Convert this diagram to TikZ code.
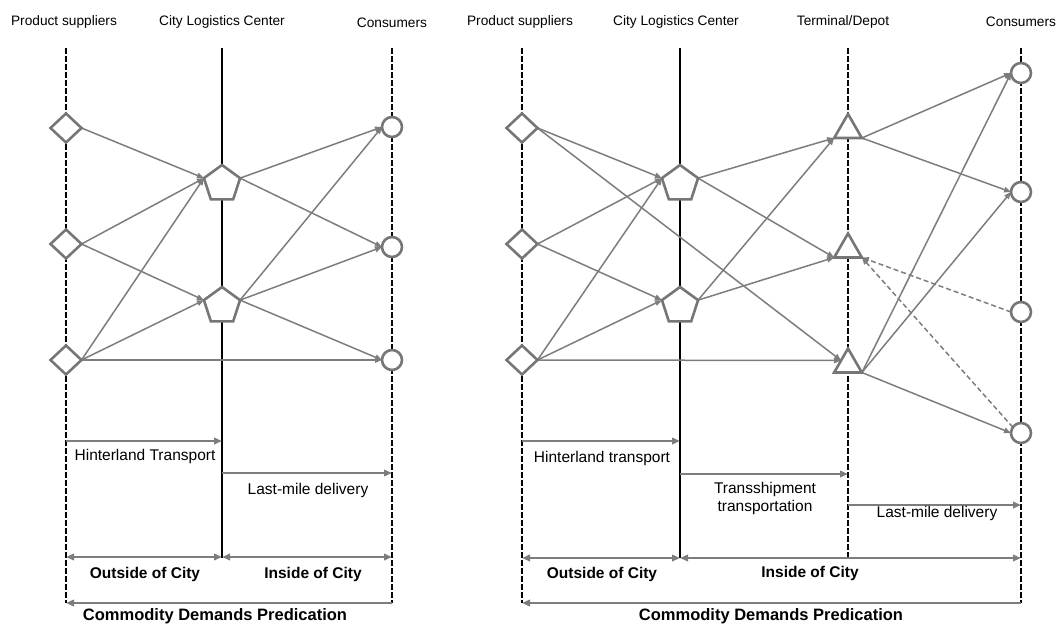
\documentclass[tikz,border=0pt]{standalone}
\usepackage{fontspec}
\setmainfont{Liberation Sans}
\usetikzlibrary{shapes.geometric,arrows.meta,calc}
\pgfdeclarelayer{bg}
\pgfsetlayers{bg,main}
\definecolor{linegray}{RGB}{125,125,125}
\definecolor{shapegray}{RGB}{118,118,118}
\tikzset{
  shapeline/.style={draw=shapegray, line width=2.6pt, fill=white, inner sep=0pt, outer sep=0pt},
  supplier/.style={shapeline, diamond, minimum width=31pt, minimum height=29pt},
  clcnode/.style={shapeline, regular polygon, regular polygon sides=5, minimum size=38pt},
  depotnode/.style={shapeline, regular polygon, regular polygon sides=3, minimum size=32pt},
  consumer/.style={shapeline, circle, minimum size=20pt},
  flow/.style={draw=linegray, line width=1.5pt, -{Triangle[length=7pt,width=5.5pt]}},
  backflow/.style={flow, dash pattern=on 5pt off 3pt},
  tier/.style={line width=2.2pt, black, dash pattern=on 5.5pt off 2.5pt},
  hub/.style={line width=2.2pt, black},
  span/.style={draw=linegray, line width=2.8pt, -{Triangle[length=8pt,width=6.5pt]}},
  spanboth/.style={draw=linegray, line width=2.8pt, {Triangle[length=8pt,width=6.5pt]}-{Triangle[length=8pt,width=6.5pt]}},
  head/.style={font=\fontsize{13.7}{16}\selectfont},
  lab/.style={font=\fontsize{15.5}{18}\selectfont, align=center},
  zone/.style={font=\fontsize{15.5}{18}\selectfont\bfseries},
  total/.style={font=\fontsize{16.5}{19}\selectfont\bfseries},
}
\begin{document}
\begin{tikzpicture}[x=1pt,y=-1pt]
\useasboundingbox (0,0) rectangle (1056,624);

% ---------------- two-echelon system (left) ----------------
\node[head] (hSupL) at (64,22) {Product suppliers};
\node[head] (hClcL) at (222,22) {City Logistics Center};
\node[head] (hConL) at (392,23) {Consumers};

\coordinate (sLt) at (66,48);   \coordinate (sLb) at (66,603);
\coordinate (cLt) at (222,48);  \coordinate (cLb) at (222,558);
\coordinate (kLt) at (392,48);  \coordinate (kLb) at (392,603);

\node[supplier] (D1L) at (66,128) {};
\node[supplier] (D2L) at (66,244) {};
\node[supplier] (D3L) at (66,360) {};
\node[clcnode] (P1L) at (222,184) {};
\node[clcnode] (P2L) at (222,306) {};
\node[consumer] (C1L) at (392,127) {};
\node[consumer] (C2L) at (392,247) {};
\node[consumer] (C3L) at (392,360) {};

% ---------------- three-echelon system (right) ----------------
\node[head] (hSupR) at (520,22) {Product suppliers};
\node[head] (hClcR) at (676,22) {City Logistics Center};
\node[head] (hDepR) at (843,22) {Terminal/Depot};
\node[head] (hConR) at (1021,22) {Consumers};

\coordinate (sRt) at (522,48);  \coordinate (sRb) at (522,603);
\coordinate (cRt) at (680,48);  \coordinate (cRb) at (680,558);
\coordinate (tRt) at (848,48);  \coordinate (tRb) at (848,558);
\coordinate (kRt) at (1021,48); \coordinate (kRb) at (1021,603);

\node[supplier] (D1R) at (522,128) {};
\node[supplier] (D2R) at (522,244) {};
\node[supplier] (D3R) at (522,360) {};
\node[clcnode] (P1R) at (680,184) {};
\node[clcnode] (P2R) at (680,306) {};
\node[depotnode] (T1R) at (848,130) {};
\node[depotnode] (T2R) at (848,249.5) {};
\node[depotnode] (T3R) at (848,364.5) {};
\node[consumer] (C1R) at (1021,73) {};
\node[consumer] (C2R) at (1021,192) {};
\node[consumer] (C3R) at (1021,312) {};
\node[consumer] (C4R) at (1021,433) {};
\coordinate (T3in) at ($(T3R.corner 1)!0.5!(T3R.corner 2)$);

\begin{pgfonlayer}{bg}
  % echelon axes
  \draw[tier] (sLt) -- (sLb);
  \draw[hub]  (cLt) -- (cLb);
  \draw[tier] (kLt) -- (kLb);
  \draw[tier] (sRt) -- (sRb);
  \draw[hub]  (cRt) -- (cRb);
  \draw[tier] (tRt) -- (tRb);
  \draw[tier] (kRt) -- (kRb);

  % left flows
  \draw[flow] (D1L.east) -- (P1L.corner 2);
  \draw[flow] (D2L.east) -- (P1L.corner 2);
  \draw[flow] (D3L.east) -- (P1L.corner 2);
  \draw[flow] (D2L.east) -- (P2L.corner 2);
  \draw[flow] (D3L.east) -- (P2L.corner 2);
  \draw[flow] (D3L.east) -- (C3L.west);
  \draw[flow] (P1L.corner 5) -- (C1L.west);
  \draw[flow] (P1L.corner 5) -- (C2L.west);
  \draw[flow] (P2L.corner 5) -- (C1L.west);
  \draw[flow] (P2L.corner 5) -- (C2L.west);
  \draw[flow] (P2L.corner 5) -- (C3L.west);

  % right flows
  \draw[flow] (D1R.east) -- (P1R.corner 2);
  \draw[flow] (D2R.east) -- (P1R.corner 2);
  \draw[flow] (D3R.east) -- (P1R.corner 2);
  \draw[flow] (D2R.east) -- (P2R.corner 2);
  \draw[flow] (D3R.east) -- (P2R.corner 2);
  \draw[flow] (D1R.east) -- (T3in);
  \draw[flow] (D3R.east) -- (T3in);
  \draw[flow] (P1R.corner 5) -- (T1R.corner 2);
  \draw[flow] (P1R.corner 5) -- (T2R.corner 2);
  \draw[flow] (P2R.corner 5) -- (T1R.corner 2);
  \draw[flow] (P2R.corner 5) -- (T2R.corner 2);
  \draw[flow] (T1R.corner 3) -- (C1R.west);
  \draw[flow] (T1R.corner 3) -- (C2R.west);
  \draw[flow] (T3R.corner 3) -- (C1R.west);
  \draw[flow] (T3R.corner 3) -- (C2R.west);
  \draw[flow] (T3R.corner 3) -- (C4R.west);
  \draw[backflow] (C3R.west) -- (T2R.corner 3);
  \draw[backflow] (C4R.145) -- (T2R.corner 3);
\end{pgfonlayer}

% ---------------- left scale ----------------
\coordinate (hLa) at (66,441);   \coordinate (hLb) at (222,441);
\coordinate (mLa) at (222,473);  \coordinate (mLb) at (392,473);
\coordinate (oLa) at (66,557);   \coordinate (oLb) at (222,557);
\coordinate (iLa) at (222,557);  \coordinate (iLb) at (392,557);
\coordinate (dLa) at (392,603);  \coordinate (dLb) at (66,603);
\draw[span] (hLa) -- (hLb);
\draw[span] (mLa) -- (mLb);
\draw[spanboth] (oLa) -- (oLb);
\draw[spanboth] (iLa) -- (iLb);
\draw[span] (dLa) -- (dLb);
\node[lab] (lHintL) at (145,456) {Hinterland Transport};
\node[lab] (lLastL) at (308,490) {Last-mile delivery};
\node[zone] (zOutL) at (145,574) {Outside of City};
\node[zone] (zInL) at (313,574) {Inside of City};
\node[total] (zDemL) at (215,616) {Commodity Demands Predication};

% ---------------- right scale ----------------
\coordinate (hRa) at (522,441);  \coordinate (hRb) at (680,441);
\coordinate (tRa) at (680,474);  \coordinate (tRc) at (848,474);
\coordinate (mRa) at (848,505);  \coordinate (mRb) at (1021,505);
\coordinate (oRa) at (522,558);  \coordinate (oRb) at (680,558);
\coordinate (iRa) at (680,558);  \coordinate (iRb) at (1021,558);
\coordinate (dRa) at (1021,603); \coordinate (dRb) at (522,603);
\draw[span] (hRa) -- (hRb);
\draw[span] (tRa) -- (tRc);
\draw[span] (mRa) -- (mRb);
\draw[spanboth] (oRa) -- (oRb);
\draw[spanboth] (iRa) -- (iRb);
\draw[span] (dRa) -- (dRb);
\node[lab] (lHintR) at (602,458) {Hinterland transport};
\node[lab] (lTranR) at (765,498) {Transshipment\\transportation};
\node[lab] (lLastR) at (937,513) {Last-mile delivery};
\node[zone] (zOutR) at (602,574) {Outside of City};
\node[zone] (zInR) at (810,573) {Inside of City};
\node[total] (zDemR) at (771,616) {Commodity Demands Predication};
\end{tikzpicture}
\end{document}
